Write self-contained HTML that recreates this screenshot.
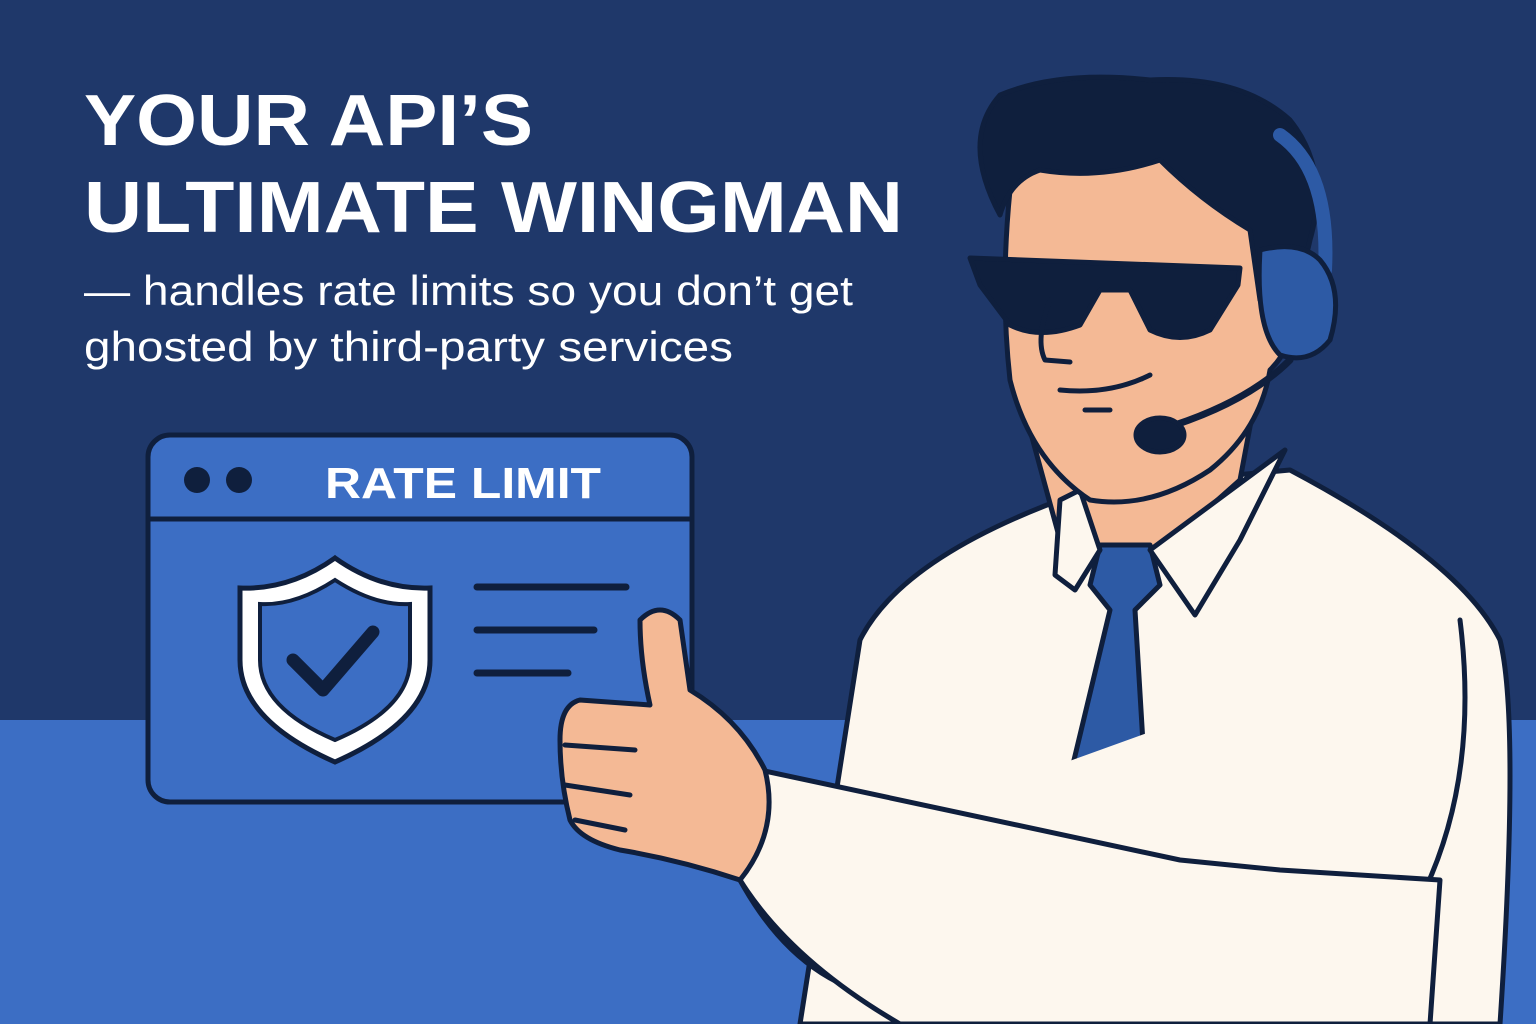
<!DOCTYPE html>
<html><head><meta charset="utf-8"><style>
html,body{margin:0;padding:0;width:1536px;height:1024px;overflow:hidden;background:#1f386a}
svg{display:block}
</style></head><body>
<svg width="1536" height="1024" viewBox="0 0 1536 1024" xmlns="http://www.w3.org/2000/svg">
<rect width="1536" height="1024" fill="#1f386a"/>
<rect y="720" width="1536" height="304" fill="#3c6ec4"/>
<g font-family="Liberation Sans, sans-serif" fill="#ffffff">
<text x="84" y="145" font-size="72" font-weight="bold" textLength="449" lengthAdjust="spacingAndGlyphs">YOUR API’S</text>
<text x="84" y="232" font-size="72" font-weight="bold" textLength="819" lengthAdjust="spacingAndGlyphs">ULTIMATE WINGMAN</text>
<text x="84" y="305" font-size="42" textLength="769" lengthAdjust="spacingAndGlyphs">— handles rate limits so you don’t get</text>
<text x="84" y="361" font-size="42" textLength="649" lengthAdjust="spacingAndGlyphs">ghosted by third-party services</text>
</g>
<!-- window -->
<rect x="148" y="435" width="544" height="367" rx="22" fill="#3c6ec4" stroke="#0f1f3d" stroke-width="5"/>
<line x1="150" y1="519" x2="690" y2="519" stroke="#0f1f3d" stroke-width="5"/>
<circle cx="197" cy="480" r="13" fill="#0f1f3d"/>
<circle cx="239" cy="480" r="13" fill="#0f1f3d"/>
<text x="463" y="498" font-family="Liberation Sans, sans-serif" font-size="44" font-weight="bold" fill="#fff" text-anchor="middle" textLength="276" lengthAdjust="spacingAndGlyphs">RATE LIMIT</text>
<path d="M335 558 Q380 590 430 588 L430 660 Q430 720 335 762 Q240 720 240 660 L240 588 Q290 590 335 558Z" fill="#fff" stroke="#0f1f3d" stroke-width="5"/>
<path d="M335 580 Q375 606 410 604 L410 660 Q410 708 335 740 Q260 708 260 660 L260 604 Q295 606 335 580Z" fill="#3c6ec4" stroke="#0f1f3d" stroke-width="4"/>
<path d="M293 660 L323 690 L373 632" fill="none" stroke="#0f1f3d" stroke-width="13" stroke-linecap="round" stroke-linejoin="round"/>
<g stroke="#0f1f3d" stroke-width="7" stroke-linecap="round">
<line x1="477" y1="587" x2="626" y2="587"/><line x1="477" y1="630" x2="594" y2="630"/><line x1="477" y1="673" x2="568" y2="673"/>
</g>
<!-- person -->
<g stroke="#0f1f3d" stroke-width="5" stroke-linejoin="round" stroke-linecap="round">
<path d="M800 1024 L860 640 Q900 560 1060 500 L1180 480 L1290 470 Q1460 560 1500 640 Q1520 720 1500 1024 Z" fill="#fdf7ee"/>
<path d="M1030 430 L1060 540 L1150 560 L1240 480 L1255 400 Z" fill="#f4b995"/>
<path d="M1100 545 L1150 545 L1160 585 L1135 610 L1150 860 L1050 860 L1110 610 L1090 585 Z" fill="#2d5aa5"/>
<path d="M1060 500 L1055 575 L1075 590 L1100 550 L1080 490 Z" fill="#fdf7ee"/>
<path d="M1150 550 L1195 615 L1240 540 L1285 450 Z" fill="#fdf7ee"/>
<path d="M1010 190 Q1000 290 1010 380 Q1030 460 1090 500 Q1150 510 1210 470 Q1260 430 1270 370 Q1300 340 1290 300 L1260 260 Q1250 180 1150 150 Q1060 140 1010 190Z" fill="#f4b995"/>
<path d="M1000 215 Q960 140 1000 95 Q1060 70 1150 80 Q1240 75 1290 120 Q1330 170 1310 240 Q1300 290 1260 300 L1250 230 Q1200 200 1160 160 Q1100 180 1040 170 Q1010 180 1000 215Z" fill="#0f1f3d"/>
<path d="M970 258 L1240 268 L1238 285 L1210 330 Q1180 345 1150 330 L1130 290 L1100 290 L1080 325 Q1040 340 1010 325 L980 285 Z" fill="#0f1f3d"/>
<path d="M1280 135 Q1330 170 1325 270" fill="none" stroke="#2d5aa5" stroke-width="14"/>
<path d="M1260 250 Q1300 240 1320 260 Q1345 290 1330 340 Q1310 365 1280 355 Q1255 330 1260 250Z" fill="#2d5aa5"/>
<path d="M1290 360 Q1250 400 1175 425" fill="none" stroke-width="7"/>
<ellipse cx="1160" cy="435" rx="24" ry="17" fill="#0f1f3d"/>
<path d="M1060 390 Q1110 395 1150 375" fill="none"/><path d="M1085 410 L1110 410" fill="none"/>
<path d="M1050 300 Q1035 340 1045 360 L1070 362" fill="none"/>
<path d="M740 880 Q800 990 900 1000 L1280 1000 Q1400 980 1420 900 Q1480 780 1460 620" fill="#fdf7ee"/>
<path d="M760 770 L1180 860 L1280 870 L1440 880 L1430 1024 L900 1024 Q790 960 740 880 Z" fill="#fdf7ee"/>
<path d="M640 620 Q660 600 680 620 L690 690 Q740 720 765 770 Q780 830 740 880 Q680 860 620 850 Q580 840 570 820 Q560 780 560 740 Q560 705 580 700 L650 705 Q640 660 640 620Z" fill="#f4b995"/>
<g fill="none"><path d="M565 745 L635 750"/><path d="M565 785 L630 795"/><path d="M575 820 L625 830"/></g>
</g>
</svg>
</body></html>
